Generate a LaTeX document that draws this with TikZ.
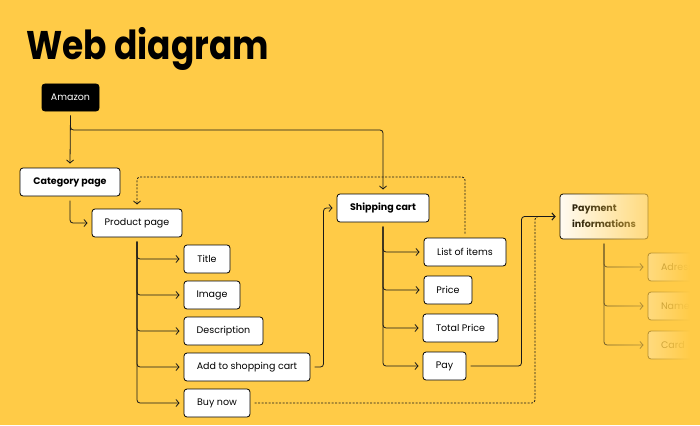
\documentclass[tikz,border=0pt]{standalone}
\usepackage{fontspec}
\setmainfont{Poppins}
\newfontfamily\titlefont[FakeStretch=0.86]{Poppins}
\usetikzlibrary{arrows.meta,fadings}
\definecolor{bgc}{HTML}{FFCB47}
\tikzfading[name=faderight, left color=transparent!100, right color=transparent!0]
\tikzset{
  box/.style={draw=black, fill=white, rounded corners=3pt, line width=0.8pt,
    minimum height=28pt, inner sep=0pt, outer sep=4.5pt,
    font=\fontsize{9.5}{11}\selectfont},
  boldbox/.style={box, font=\fontsize{9.5}{11}\selectfont\bfseries},
  fadedbox/.style={box, anchor=west, inner xsep=13pt},
  conn/.style={draw=black!90, line width=0.8pt, rounded corners=3pt,
    -{Straight Barb[length=3pt,width=7pt]}},
  dconn/.style={conn, dash pattern=on 2pt off 1.5pt},
}
\begin{document}
\begin{tikzpicture}[x=1pt,y=-1pt]
\fill[bgc] (0,0) rectangle (700,425);
\useasboundingbox (0,0) rectangle (700,425);
\node[anchor=base west, inner sep=0pt, font=\titlefont\fontsize{40}{42}\selectfont\bfseries] (heading) at (26,60) {Web diagram};

\node[box, fill=black, text=white, minimum width=57pt, minimum height=27pt] (amazon) at (70.5,97.5) {Amazon};
\node[boldbox, minimum width=100pt] (category) at (70,182) {Category page};
\node[box, minimum width=90pt] (product) at (137,223) {Product page};
\node[box, minimum width=46pt] (title) at (207,259) {Title};
\node[box, minimum width=56pt] (image) at (212,295) {Image};
\node[box, minimum width=79pt] (desc) at (223.5,331) {Description};
\node[box, minimum width=126pt] (add) at (247,367) {Add to shopping cart};
\node[box, minimum width=66pt] (buy) at (217,403) {Buy now};
\node[boldbox, minimum width=92pt] (ship) at (383,208) {Shipping cart};
\node[box, minimum width=82pt] (list) at (465,252) {List of items};
\node[box, minimum width=48pt] (price) at (448,290) {Price};
\node[box, minimum width=75pt] (total) at (460.5,328) {Total Price};
\node[box, minimum width=43pt] (pay) at (444.5,366) {Pay};
\node[boldbox, minimum width=88pt, minimum height=45pt, align=left,
  font=\fontsize{9.5}{16}\selectfont\bfseries] (payinfo) at (604,216.5) {Payment\\informations};
\node[fadedbox] (adr) at (643.5,267) {Adress};
\node[fadedbox] (name) at (643.5,306) {Name};
\node[fadedbox] (card) at (643.5,345) {Card};

\coordinate (amzJ) at (70.5,130);
\coordinate (dtop) at (137,177);

\draw[conn] (amazon.south) -- (category.north);
\draw[conn] (amazon.south) -- (amzJ) -| (ship.north);
\draw[conn] (category.south) |- (product.west);
\foreach \c in {title,image,desc,add,buy} \draw[conn] (product.south) |- (\c.west);
\draw[conn] (add.east) -- ++(9,0) |- (ship.west);
\foreach \c in {list,price,total,pay} \draw[conn] (ship.south) |- (\c.west);
\draw[conn] (pay.east) -- ++(51,0) |- (payinfo.west);
\draw[dconn] (buy.east) -- ++(280.5,0) |- (payinfo.west);
\draw[dconn] (list.north) |- (dtop) -- (product.north);
\foreach \c in {adr,name,card} \draw[conn] (payinfo.south) |- (\c.west);

\fill[bgc, path fading=faderight] (550,185) rectangle (690,370);
\fill[bgc] (689.5,185) rectangle (700,370);
\end{tikzpicture}
\end{document}
